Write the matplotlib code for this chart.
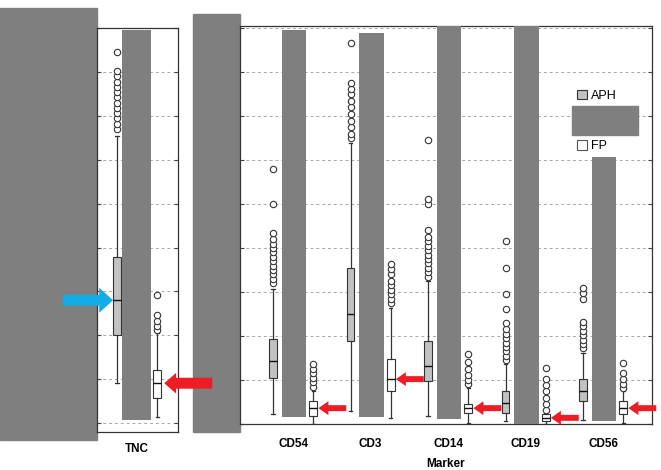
import matplotlib
matplotlib.use("Agg")
import matplotlib.pyplot as plt
from matplotlib.patches import Rectangle, Patch

plt.rcParams['font.family'] = ['Liberation Sans', 'DejaVu Sans']

# ---- data (arbitrary y units, grid = 1) ----
markers = ["CD54", "CD3", "CD14", "CD19", "CD56"]

aph_q1 = [1.05, 1.89, 0.98, 0.25, 0.52]
aph_med = [1.43, 2.50, 1.32, 0.48, 0.75]
aph_q3 = [1.94, 3.55, 1.89, 0.75, 1.02]
aph_lo = [0.23, 0.30, 0.18, 0.07, 0.10]
aph_hi = [3.08, 6.38, 3.26, 1.37, 1.62]
aph_out = [
    [3.2, 3.3, 3.4, 3.5, 3.6, 3.7, 3.8, 3.9, 4.0, 4.1, 4.2, 4.35, 5.0, 5.8],
    [6.5, 6.6, 6.75, 6.9, 7.05, 7.2, 7.35, 7.5, 7.62, 7.75, 8.66],
    [3.35, 3.45, 3.55, 3.65, 3.75, 3.85, 3.95, 4.05, 4.15, 4.25, 4.4, 5.0, 5.12, 6.45],
    [1.45, 1.55, 1.65, 1.75, 1.85, 1.95, 2.05, 2.15, 2.3, 2.62, 2.96, 3.55, 4.17],
    [1.72, 1.82, 1.92, 2.02, 2.12, 2.22, 2.32, 2.85, 2.97, 3.1],
]

fp_q1 = [0.18, 0.75, 0.25, 0.07, 0.23]
fp_med = [0.36, 1.02, 0.36, 0.14, 0.36]
fp_q3 = [0.52, 1.48, 0.45, 0.23, 0.52]
fp_lo = [0.00, 0.14, 0.02, 0.00, 0.02]
fp_hi = [0.75, 2.64, 0.82, 0.25, 0.75]
fp_out = [
    [0.85, 0.95, 1.05, 1.15, 1.25, 1.37],
    [2.75, 2.85, 2.95, 3.05, 3.15, 3.25, 3.4, 3.52, 3.64],
    [0.9, 1.0, 1.12, 1.25, 1.4, 1.6],
    [0.32, 0.46, 0.6, 0.74, 0.88, 1.02, 1.28],
    [0.82, 0.92, 1.02, 1.15, 1.39],
]

# TNC panel: APH, FP
tnc_q1 = [2.00, 0.57]
tnc_med = [2.80, 0.91]
tnc_q3 = [3.78, 1.20]
tnc_lo = [0.91, 0.14]
tnc_hi = [6.55, 2.05]
tnc_out = [
    [6.7, 6.82, 6.94, 7.06, 7.18, 7.3, 7.42, 7.54, 7.66, 7.78, 7.9, 8.02, 8.45],
    [2.12, 2.22, 2.32, 2.46, 2.92],
]

# redaction bars in each panel (bottom, top)
redact_tnc = (0.07, 8.95)
redact_bot = [0.16, 0.16, 0.11, 0.00, 0.07]
redact_top = [8.95, 8.90, 9.10, 9.10, 6.06]

APH_FILL = '#c2c2c2'
GRAY = '#7f7f7f'
RED = '#ee1c24'
BLUE = '#12ade6'
FP_OFF = 0.52


def stats(q1, med, q3, lo, hi, out):
    return [dict(q1=a, med=b, q3=c, whislo=d, whishi=e, fliers=f)
            for a, b, c, d, e, f in zip(q1, med, q3, lo, hi, out)]


def draw_boxes(ax, st, pos, fill):
    ax.bxp(st, positions=pos, widths=0.1, capwidths=0.04, patch_artist=True,
           manage_ticks=False,
           boxprops=dict(facecolor=fill, edgecolor='#333333', linewidth=0.8),
           medianprops=dict(color='#111111', linewidth=1.0),
           whiskerprops=dict(color='#333333', linewidth=0.9),
           capprops=dict(color='#333333', linewidth=0.9),
           flierprops=dict(marker='o', markerfacecolor='white',
                           markeredgecolor='#333333', markersize=4.6,
                           markeredgewidth=0.8))


def style_axes(ax):
    ax.set_yticks(range(0, 10))
    ax.yaxis.grid(True, linestyle=(0, (3, 3)), color='#a8a8a8', linewidth=0.7)
    ax.set_axisbelow(True)
    ax.tick_params(axis='y', left=True, right=True, direction='in',
                   length=3, labelleft=False, color='#444444')
    ax.tick_params(axis='x', length=0, labelsize=8.5)
    for s in ax.spines.values():
        s.set_color('#333333')
        s.set_linewidth(0.9)
    for lab in ax.get_xticklabels():
        lab.set_fontweight('bold')


def red_arrow(ax, x, y, length, big=False):
    if big:
        style = 'simple,head_length=8.6,head_width=15,tail_width=7.9'
    else:
        style = 'simple,head_length=7.2,head_width=10,tail_width=4.3'
    ax.annotate('', xy=(x, y), xytext=(x + length, y),
                arrowprops=dict(arrowstyle=style, color=RED, mutation_scale=1,
                                shrinkA=0, shrinkB=0, lw=0),
                annotation_clip=False, zorder=10)


fig = plt.figure(figsize=(6.61, 4.70), dpi=100)

# big redaction blocks outside the panels
fig.add_artist(Rectangle((0.0, 0.0638), 0.1467, 0.919, transform=fig.transFigure,
                         color=GRAY, zorder=-1))
fig.add_artist(Rectangle((0.292, 0.0809), 0.0711, 0.889, transform=fig.transFigure,
                         color=GRAY, zorder=-1))

# ---- TNC panel ----
ax1 = fig.add_axes([0.1467, 0.0809, 0.1225, 0.8596])
ax1.set_xlim(-0.258, 0.787)
ax1.set_ylim(-0.2, 9.0)
draw_boxes(ax1, stats(tnc_q1[:1], tnc_med[:1], tnc_q3[:1], tnc_lo[:1],
                      tnc_hi[:1], tnc_out[:1]), [0], APH_FILL)
draw_boxes(ax1, stats(tnc_q1[1:], tnc_med[1:], tnc_q3[1:], tnc_lo[1:],
                      tnc_hi[1:], tnc_out[1:]), [FP_OFF], 'white')
ax1.bar(0.25, redact_tnc[1] - redact_tnc[0], bottom=redact_tnc[0], width=0.37,
        color=GRAY, zorder=4)
ax1.set_xticks([FP_OFF / 2])
ax1.set_xticklabels(["TNC"])
style_axes(ax1)
ax1.tick_params(axis='x', pad=8)
red_arrow(ax1, FP_OFF + 0.09, tnc_med[1], 0.62, big=True)
ax1.annotate('', xy=(-0.05, tnc_med[0]), xytext=(-0.70, tnc_med[0]),
             arrowprops=dict(arrowstyle='simple,head_length=10,head_width=18,tail_width=7.9',
                             color=BLUE, mutation_scale=1, shrinkA=0, shrinkB=0, lw=0),
             annotation_clip=False, zorder=10)

# ---- marker panel ----
ax2 = fig.add_axes([0.3631, 0.0979, 0.6233, 0.8468])
pos = list(range(len(markers)))
ax2.set_xlim(-0.426, 4.89)
ax2.set_ylim(0, 9.05)
draw_boxes(ax2, stats(aph_q1, aph_med, aph_q3, aph_lo, aph_hi, aph_out), pos, APH_FILL)
draw_boxes(ax2, stats(fp_q1, fp_med, fp_q3, fp_lo, fp_hi, fp_out),
           [p + FP_OFF for p in pos], 'white')
ax2.bar([p + 0.27 for p in pos], [t - b for t, b in zip(redact_top, redact_bot)],
        bottom=redact_bot, width=0.32, color=GRAY, zorder=4)
ax2.set_xticks([p + FP_OFF / 2 for p in pos])
ax2.set_xticklabels(markers)
style_axes(ax2)
ax2.tick_params(axis='x', pad=10)
ax2.set_xlabel("Marker", fontsize=8.5, fontweight='bold', labelpad=6)

for p, m in zip(pos, fp_med):
    red_arrow(ax2, p + FP_OFF + 0.065, m, 0.36)

handles = [Patch(facecolor=APH_FILL, edgecolor='#333333', linewidth=0.8),
           Patch(facecolor='none', edgecolor='none'),
           Patch(facecolor='white', edgecolor='#555555', linewidth=0.8)]
ax2.legend(handles, ["APH", " ", "FP"], loc='upper left',
           bbox_to_anchor=(0.818, 0.84), borderaxespad=0, borderpad=0,
           frameon=False, fontsize=9, handlelength=0.8, handleheight=0.8,
           handletextpad=0.3, labelspacing=1.05)
ax2.add_patch(Rectangle((0.806, 0.726), 0.16, 0.073, transform=ax2.transAxes,
                        color=GRAY, zorder=20))

fig.savefig("out.png", dpi=100)
